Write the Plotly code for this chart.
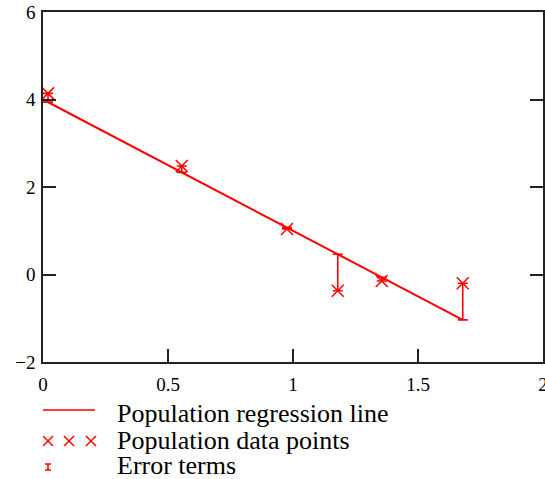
import plotly.graph_objects as go

# Data
x_pts = [0.02, 0.555, 0.976, 1.179, 1.355, 1.679]
y_pts = [4.14, 2.48, 1.04, -0.37, -0.15, -0.20]
intercept = 4.0
slope = -3.0

x_ticks = [0, 0.5, 1, 1.5, 2]
y_ticks = [-2, 0, 2, 4, 6]

legend_labels = ["Population regression line", "Population data points", "Error terms"]

RED = "#ff0000"
FONT = "Liberation Serif"

y_line = [intercept + slope * x for x in x_pts]
err_up = [max(l - y, 0) for y, l in zip(y_pts, y_line)]
err_down = [max(y - l, 0) for y, l in zip(y_pts, y_line)]

fig = go.Figure()

# regression line
line_x = [0, x_pts[-1]]
fig.add_trace(go.Scatter(x=line_x, y=[intercept + slope * v for v in line_x],
                         mode="lines", line=dict(color=RED, width=2),
                         hoverinfo="skip", showlegend=False))
# error terms
fig.add_trace(go.Scatter(x=x_pts, y=y_pts, mode="markers",
                         marker=dict(size=0.1, color=RED, opacity=0),
                         error_y=dict(type="data", symmetric=False, array=err_up,
                                      arrayminus=err_down, color=RED,
                                      thickness=1.6, width=5),
                         showlegend=False))
# data points
fig.add_trace(go.Scatter(x=x_pts, y=y_pts, mode="markers",
                         marker=dict(symbol="x-thin-open", size=12, color=RED,
                                     line=dict(color=RED, width=1.5)),
                         showlegend=False))

# ---- custom legend drawn on an overlay pixel axis ----
W, H = 545, 479
leg_line_y, leg_pts_y, leg_err_y = 410, 441, 467
fig.add_trace(go.Scatter(x=[43, 95], y=[leg_line_y, leg_line_y], mode="lines",
                         line=dict(color=RED, width=1.5),
                         xaxis="x2", yaxis="y2", showlegend=False, hoverinfo="skip"))
fig.add_trace(go.Scatter(x=[48, 69, 91], y=[leg_pts_y] * 3, mode="markers",
                         marker=dict(symbol="x-thin-open", size=10, color=RED,
                                     line=dict(color=RED, width=1.5)),
                         xaxis="x2", yaxis="y2", showlegend=False, hoverinfo="skip"))
fig.add_trace(go.Scatter(x=[48], y=[leg_err_y], mode="markers",
                         marker=dict(size=0.1, opacity=0, color=RED),
                         error_y=dict(type="constant", value=3, color=RED,
                                      thickness=1.5, width=3),
                         xaxis="x2", yaxis="y2", showlegend=False, hoverinfo="skip"))
for lbl, yy in zip(legend_labels, [413, 440, 465]):
    fig.add_annotation(x=115, y=yy, xref="x2", yref="y2", text=lbl, showarrow=False,
                       xanchor="left", yanchor="middle",
                       font=dict(family=FONT, size=26, color="black"))

plot_bottom = 362
ydom0 = (H - plot_bottom) / (H - 12)

axis_common = dict(showgrid=False, zeroline=False, showline=True,
                   linecolor="#222", linewidth=1.5, ticks="inside", ticklen=13,
                   tickwidth=1.5, tickcolor="#222", ticklabeloverflow="allow",
                   automargin=False,
                   tickfont=dict(family=FONT, size=19, color="black"))

fig.update_layout(
    width=W, height=H,
    font=dict(family=FONT),
    margin=dict(l=43, r=2, t=12, b=0, autoexpand=False),
    paper_bgcolor="white", plot_bgcolor="white",
    xaxis=dict(range=[0, 2], tickvals=x_ticks, mirror=True, anchor="y",
               ticklabelstandoff=4, **axis_common),
    yaxis=dict(range=[-2, 6], tickvals=y_ticks, mirror="ticks", domain=[ydom0, 1],
               anchor="x", ticklabelstandoff=2, **axis_common),
    xaxis2=dict(range=[43, 543], domain=[0, 1], visible=False, anchor="y2",
                fixedrange=True),
    yaxis2=dict(range=[H, plot_bottom], domain=[0, ydom0], visible=False,
                anchor="x2", fixedrange=True),
)

fig.write_html("out.html")
